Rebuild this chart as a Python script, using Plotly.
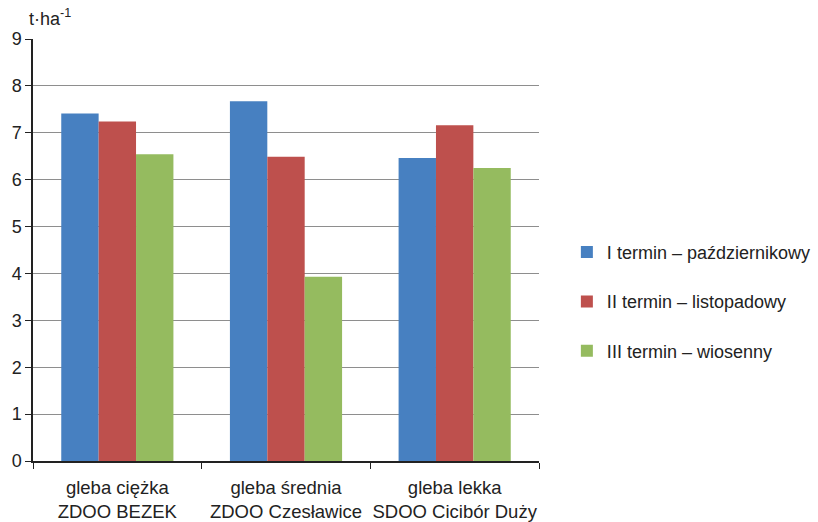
import plotly.graph_objects as go

categories = ["gleba ciężka<br>ZDOO BEZEK", "gleba średnia<br>ZDOO Czesławice", "gleba lekka<br>SDOO Cicibór Duży"]
series_names = ["I termin – październikowy", "II termin – listopadowy", "III termin – wiosenny"]
termin_I = [7.41, 7.67, 6.46]
termin_II = [7.24, 6.49, 7.16]
termin_III = [6.54, 3.93, 6.25]
y_ticks = [0, 1, 2, 3, 4, 5, 6, 7, 8, 9]

colors = ["#4780C1", "#BE504D", "#95BB5F"]
values = [termin_I, termin_II, termin_III]

fig = go.Figure()
for i, (name, vals, col) in enumerate(zip(series_names, values, colors)):
    fig.add_trace(go.Bar(
        x=categories, y=vals, name=name,
        marker=dict(color=col, line=dict(width=0)),
        legendgroup=f"g{i}",
    ))

font_family = "Liberation Sans, Arial, sans-serif"

fig.update_layout(
    width=818, height=522,
    margin=dict(l=33, r=279, t=39, b=61, autoexpand=False),
    paper_bgcolor="white", plot_bgcolor="white",
    barmode="group", bargap=0.335, bargroupgap=0,
    font=dict(family=font_family, color="#222"),
    xaxis=dict(
        type="category", tickson="boundaries", ticks="outside", ticklen=6,
        tickcolor="#222", showline=True, linecolor="#222", linewidth=1.5,
        tickfont=dict(size=18.5, color="#222"), showgrid=False,
        tickangle=0, automargin=False, ticklabelstandoff=9,
    ),
    yaxis=dict(
        range=[0, 9], tickvals=y_ticks, ticks="outside", ticklen=6,
        tickcolor="#222", showline=True, linecolor="#222", linewidth=1.5,
        showgrid=True, gridcolor="#8E8E8E", gridwidth=1.3,
        tickfont=dict(size=18, color="#222"), zeroline=False,
        automargin=False,
    ),
    legend=dict(
        xref="container", yref="container",
        x=0.693, y=0.552, xanchor="left", yanchor="top",
        bgcolor="rgba(0,0,0,0)", font=dict(family=font_family, size=18, color="#222"),
        itemwidth=30, tracegroupgap=23, traceorder="grouped",
    ),
    annotations=[dict(
        text="t·ha<sup>-1</sup>", xref="paper", yref="paper",
        x=-0.012, y=1.0, xanchor="left", yanchor="bottom", yshift=8,
        showarrow=False, font=dict(size=18, color="#222"),
    )],
)

fig.write_html("out.html")
